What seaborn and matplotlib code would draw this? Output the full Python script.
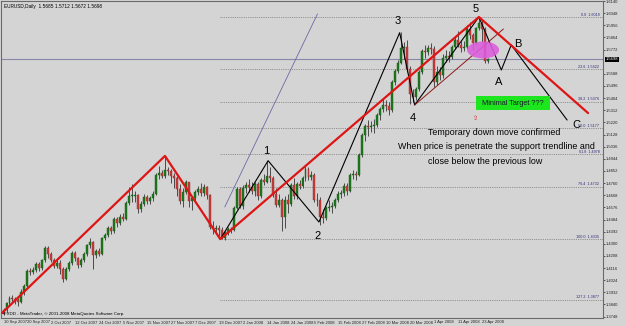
import numpy as np
import pandas as pd
import matplotlib
matplotlib.use("Agg")
import matplotlib.pyplot as plt
import matplotlib.transforms as mtransforms
from matplotlib.patches import Ellipse, Rectangle
import seaborn as sns

# ---------------- data ----------------
opens = [
    1.3765, 1.3795, 1.3850, 1.3890, 1.3880, 1.3875, 1.3860, 1.3935, 1.3980, 1.4095,
    1.4085, 1.4105, 1.4145, 1.4120, 1.4175, 1.4265, 1.4220, 1.4180, 1.4135, 1.4155,
    1.4110, 1.4035, 1.4110, 1.4155, 1.4230, 1.4190, 1.4140, 1.4180, 1.4220, 1.4290,
    1.4315, 1.4215, 1.4245, 1.4225, 1.4345, 1.4370, 1.4420, 1.4395, 1.4485, 1.4455,
    1.4505, 1.4490, 1.4610, 1.4665, 1.4665, 1.4670, 1.4565, 1.4605, 1.4655, 1.4625,
    1.4645, 1.4680, 1.4825, 1.4835, 1.4810, 1.4860, 1.4855, 1.4810, 1.4795, 1.4715,
    1.4625, 1.4690, 1.4765, 1.4625, 1.4645, 1.4690, 1.4715, 1.4685, 1.4730, 1.4670,
    1.4430, 1.4415, 1.4420, 1.4405, 1.4345, 1.4390, 1.4415, 1.4405, 1.4575, 1.4715,
    1.4590, 1.4720, 1.4745, 1.4730, 1.4700, 1.4750, 1.4665, 1.4785, 1.4770, 1.4815,
    1.4795, 1.4680, 1.4595, 1.4630, 1.4505, 1.4630, 1.4605, 1.4745, 1.4660, 1.4750,
    1.4740, 1.4795, 1.4865, 1.4805, 1.4825, 1.4630, 1.4630, 1.4505, 1.4495, 1.4570,
    1.4580, 1.4585, 1.4630, 1.4680, 1.4685, 1.4740, 1.4700, 1.4820, 1.4830, 1.4825,
    1.4975, 1.5125, 1.5190, 1.5185, 1.5195, 1.5200, 1.5275, 1.5320, 1.5350, 1.5345,
    1.5315, 1.5525, 1.5610, 1.5670, 1.5785, 1.5795, 1.5625, 1.5435, 1.5410, 1.5475,
    1.5605, 1.5765, 1.5755, 1.5785, 1.5780, 1.5530, 1.5605, 1.5580, 1.5705, 1.5725,
    1.5715, 1.5790, 1.5845, 1.5810, 1.5785, 1.5795, 1.5930, 1.5880, 1.5820, 1.5935,
    1.5970, 1.5925, 1.5685,
]
highs = [
    1.3810, 1.3860, 1.3905, 1.3915, 1.3900, 1.3890, 1.3955, 1.3995, 1.4110, 1.4120,
    1.4125, 1.4160, 1.4160, 1.4185, 1.4280, 1.4285, 1.4235, 1.4195, 1.4190, 1.4180,
    1.4125, 1.4125, 1.4170, 1.4245, 1.4245, 1.4200, 1.4195, 1.4235, 1.4300, 1.4345,
    1.4320, 1.4260, 1.4270, 1.4355, 1.4385, 1.4435, 1.4435, 1.4500, 1.4500, 1.4525,
    1.4530, 1.4625, 1.4730, 1.4750, 1.4700, 1.4680, 1.4625, 1.4675, 1.4670, 1.4665,
    1.4700, 1.4840, 1.4890, 1.4860, 1.4965, 1.4880, 1.4870, 1.4840, 1.4815, 1.4755,
    1.4720, 1.4785, 1.4770, 1.4665, 1.4705, 1.4735, 1.4760, 1.4750, 1.4740, 1.4675,
    1.4470, 1.4445, 1.4445, 1.4425, 1.4400, 1.4425, 1.4430, 1.4590, 1.4730, 1.4730,
    1.4745, 1.4765, 1.4790, 1.4765, 1.4770, 1.4765, 1.4800, 1.4830, 1.4930, 1.4880,
    1.4810, 1.4720, 1.4675, 1.4650, 1.4665, 1.4680, 1.4760, 1.4800, 1.4765, 1.4780,
    1.4815, 1.4890, 1.4885, 1.4850, 1.4835, 1.4685, 1.4655, 1.4560, 1.4585, 1.4630,
    1.4615, 1.4645, 1.4700, 1.4710, 1.4760, 1.4760, 1.4835, 1.4860, 1.4850, 1.4990,
    1.5140, 1.5205, 1.5240, 1.5230, 1.5245, 1.5295, 1.5340, 1.5400, 1.5390, 1.5375,
    1.5545, 1.5625, 1.5690, 1.5905, 1.5830, 1.5845, 1.5650, 1.5470, 1.5490, 1.5620,
    1.5780, 1.5810, 1.5805, 1.5820, 1.5800, 1.5650, 1.5640, 1.5740, 1.5770, 1.5765,
    1.5805, 1.5870, 1.5915, 1.5835, 1.5840, 1.5960, 1.5980, 1.5900, 1.5945, 1.6019,
    1.6000, 1.5945, 1.5712,
]
lows = [
    1.3760, 1.3785, 1.3830, 1.3850, 1.3840, 1.3830, 1.3850, 1.3915, 1.3970, 1.4060,
    1.4070, 1.4085, 1.4095, 1.4105, 1.4165, 1.4195, 1.4165, 1.4115, 1.4115, 1.4070,
    1.4010, 1.4025, 1.4090, 1.4140, 1.4170, 1.4120, 1.4125, 1.4165, 1.4205, 1.4265,
    1.4110, 1.4195, 1.4205, 1.4215, 1.4325, 1.4355, 1.4375, 1.4380, 1.4425, 1.4440,
    1.4470, 1.4480, 1.4595, 1.4620, 1.4620, 1.4535, 1.4540, 1.4590, 1.4600, 1.4605,
    1.4625, 1.4670, 1.4790, 1.4795, 1.4800, 1.4820, 1.4760, 1.4725, 1.4660, 1.4600,
    1.4580, 1.4680, 1.4580, 1.4555, 1.4620, 1.4670, 1.4660, 1.4665, 1.4640, 1.4410,
    1.4375, 1.4390, 1.4360, 1.4335, 1.4330, 1.4370, 1.4385, 1.4395, 1.4560, 1.4575,
    1.4565, 1.4685, 1.4690, 1.4680, 1.4660, 1.4630, 1.4650, 1.4745, 1.4760, 1.4770,
    1.4655, 1.4580, 1.4580, 1.4400, 1.4420, 1.4530, 1.4590, 1.4640, 1.4640, 1.4715,
    1.4725, 1.4775, 1.4785, 1.4785, 1.4615, 1.4590, 1.4440, 1.4455, 1.4480, 1.4545,
    1.4535, 1.4570, 1.4615, 1.4645, 1.4665, 1.4670, 1.4690, 1.4790, 1.4780, 1.4815,
    1.4960, 1.5080, 1.5120, 1.5150, 1.5140, 1.5185, 1.5240, 1.5300, 1.5305, 1.5275,
    1.5300, 1.5500, 1.5595, 1.5660, 1.5700, 1.5600, 1.5360, 1.5375, 1.5390, 1.5460,
    1.5590, 1.5710, 1.5730, 1.5740, 1.5490, 1.5505, 1.5545, 1.5560, 1.5680, 1.5680,
    1.5700, 1.5775, 1.5795, 1.5750, 1.5760, 1.5780, 1.5855, 1.5770, 1.5810, 1.5920,
    1.5830, 1.5670, 1.5672,
]
closes = [
    1.3795, 1.3850, 1.3890, 1.3880, 1.3875, 1.3860, 1.3935, 1.3980, 1.4095, 1.4085,
    1.4105, 1.4145, 1.4120, 1.4175, 1.4265, 1.4220, 1.4180, 1.4135, 1.4155, 1.4110,
    1.4035, 1.4110, 1.4155, 1.4230, 1.4190, 1.4140, 1.4180, 1.4220, 1.4290, 1.4315,
    1.4215, 1.4245, 1.4225, 1.4345, 1.4370, 1.4420, 1.4395, 1.4485, 1.4455, 1.4505,
    1.4490, 1.4610, 1.4665, 1.4665, 1.4670, 1.4565, 1.4605, 1.4655, 1.4625, 1.4645,
    1.4680, 1.4825, 1.4835, 1.4810, 1.4860, 1.4855, 1.4810, 1.4795, 1.4715, 1.4625,
    1.4690, 1.4765, 1.4625, 1.4645, 1.4690, 1.4715, 1.4685, 1.4730, 1.4670, 1.4430,
    1.4415, 1.4420, 1.4405, 1.4345, 1.4390, 1.4415, 1.4405, 1.4575, 1.4715, 1.4590,
    1.4720, 1.4745, 1.4730, 1.4700, 1.4750, 1.4665, 1.4785, 1.4770, 1.4815, 1.4795,
    1.4680, 1.4595, 1.4630, 1.4505, 1.4630, 1.4605, 1.4745, 1.4660, 1.4750, 1.4740,
    1.4795, 1.4865, 1.4805, 1.4825, 1.4630, 1.4630, 1.4505, 1.4495, 1.4570, 1.4580,
    1.4585, 1.4630, 1.4680, 1.4685, 1.4740, 1.4700, 1.4820, 1.4830, 1.4825, 1.4975,
    1.5125, 1.5190, 1.5185, 1.5195, 1.5200, 1.5275, 1.5320, 1.5350, 1.5345, 1.5315,
    1.5525, 1.5610, 1.5670, 1.5785, 1.5795, 1.5625, 1.5435, 1.5410, 1.5475, 1.5605,
    1.5765, 1.5755, 1.5785, 1.5780, 1.5530, 1.5605, 1.5580, 1.5705, 1.5725, 1.5715,
    1.5790, 1.5845, 1.5810, 1.5785, 1.5795, 1.5930, 1.5880, 1.5820, 1.5935, 1.5970,
    1.5925, 1.5685, 1.5698,
]

date_label_bars = [0, 8, 16, 24, 32, 40, 48, 56, 64, 72, 80, 88, 96, 104, 112,
                   120, 128, 136, 144, 152, 160]
date_labels = ["10 Sep 2007", "20 Sep 2007", "2 Oct 2007", "12 Oct 2007",
               "24 Oct 2007", "5 Nov 2007", "15 Nov 2007", "27 Nov 2007",
               "7 Dec 2007", "19 Dec 2007", "2 Jan 2008", "14 Jan 2008",
               "24 Jan 2008", "5 Feb 2008", "15 Feb 2008", "27 Feb 2008",
               "10 Mar 2008", "20 Mar 2008", "1 Apr 2008", "11 Apr 2008",
               "23 Apr 2008"]
price_ticks = [1.6140, 1.6048, 1.5956, 1.5864, 1.5772, 1.5588, 1.5496,
               1.5404, 1.5312, 1.5220, 1.5128, 1.5036, 1.4944, 1.4852, 1.4760,
               1.4668, 1.4576, 1.4484, 1.4392, 1.4300, 1.4208, 1.4116, 1.4024,
               1.3932, 1.3840, 1.3748]
current_price = 1.5698

# Elliott wave pivots: Dec low, 1, 2, 3, 4, 5, A, B, C
wave_bar = [72.5, 88.5, 105.5, 132.5, 137.5, 159.0, 166.5, 169.8, 188.5]
wave_price = [1.4335, 1.4930, 1.4465, 1.5900, 1.5352, 1.6019, 1.5617, 1.5807, 1.5238]
wave_names = ["1", "2", "3", "4", "5", "A", "B", "C"]
# red trend lines
red_bar = [-0.5, 54.0, 72.5, 159.0, 195.5]
red_price = [1.3775, 1.4966, 1.4335, 1.6019, 1.5291]
# thin support trendline (from 4) and channel line
support_bar = [137.5, 167.2]
support_price = [1.5352, 1.5928]
channel_bar = [74.0, 105.0]
channel_price = [1.4579, 1.6042]
# Fibonacci retracement
fib_low, fib_high, fib_start = 1.4335, 1.6019, 72.5
fib_levels = [0.0, 23.6, 38.2, 50.0, 61.8, 76.4, 100.0, 127.2]

# ---------------- figure ----------------
sns.set_theme(style="white")
plt.rcParams["font.family"] = ["Liberation Sans", "DejaVu Sans"]
BG = "#d4d4d4"
fig = plt.figure(figsize=(6.25, 3.26), dpi=100, facecolor=BG)
ax = fig.add_axes([1 / 625, 8 / 326, 602 / 625, 317 / 326])
ax.set_facecolor(BG)

df = pd.DataFrame({"open": opens, "high": highs, "low": lows, "close": closes})
df["bar"] = np.arange(len(df))
up = df["close"] >= df["open"]

ax.vlines(df["bar"], df["low"], df["high"], color="#4a4a4a", lw=0.7, zorder=2)
body = np.maximum((df["close"] - df["open"]).abs(), 0.00025)
ax.bar(df["bar"][up], body[up], bottom=df["open"][up], width=0.66,
       color="#1c7a1c", edgecolor="#145a14", lw=0.3, zorder=3)
ax.bar(df["bar"][~up], body[~up], bottom=df["close"][~up], width=0.66,
       color="#c83c3c", edgecolor="#9a2a2a", lw=0.3, zorder=3)

xmin, xmax = -0.84, 200.5
ymin, ymax = 1.37374, 1.61403
ax.set_xlim(xmin, xmax)
ax.set_ylim(ymin, ymax)

# Fibonacci dotted levels
rng = fib_high - fib_low
for lv in fib_levels:
    p = fib_high - rng * lv / 100.0
    ax.plot([fib_start, xmax], [p, p], ls=(0, (1, 1.2)), color="#7a7a7a", lw=0.6, zorder=1)
    ax.text(199.3, p + 0.0003, f"{lv:.1f}  {p:.4f}", fontsize=2.7, color="#2a2a7a",
            ha="right", va="bottom", zorder=4)

# current price line
ax.axhline(current_price, color="#8888a8", lw=0.8, zorder=1)

# trend lines
sns.lineplot(x=channel_bar, y=channel_price, sort=False, estimator=None,
             color="#6a6aa8", lw=0.6, ax=ax, zorder=4)
sns.lineplot(x=wave_bar, y=wave_price, sort=False, estimator=None,
             color="black", lw=0.8, ax=ax, zorder=5)
sns.lineplot(x=support_bar, y=support_price, sort=False, estimator=None,
             color="#8b1a1a", lw=0.7, ax=ax, zorder=5)
sns.lineplot(x=red_bar, y=red_price, sort=False, estimator=None,
             color="#dd1515", lw=1.6, ax=ax, zorder=6)

# magenta ellipse
ax.add_patch(Ellipse((160.4, 1.5769), 10.7, 0.0129, facecolor="#dc5cdc",
                     edgecolor="none", alpha=0.88, zorder=7))

# wave labels
label_pos = [(87.8, 1.5003), (105.2, 1.4359), (131.9, 1.5989), (136.96, 1.5253),
             (158.0, 1.6080), (165.7, 1.5526), (172.1, 1.5814), (191.5, 1.5200)]
for name, (bx, py) in zip(wave_names, label_pos):
    ax.text(bx, py, name, fontsize=8, color="black", ha="center", va="center", zorder=8)

# green target box
ax.add_patch(Rectangle((158.0, 1.5314), 24.8, 0.0106, facecolor="#1ee61e",
                       edgecolor="none", zorder=7))
ax.text(170.4, 1.5367, "Minimal Target ???", fontsize=5.3, color="#1a1a2a",
        ha="center", va="center", zorder=8)
ax.text(158.0, 1.5253, "\u21e7", fontsize=4.5, color="#dd2222", ha="center",
        va="center", zorder=8, family=["DejaVu Sans"])

# explanatory text
ax.text(164.0, 1.5140, "Temporary down move confirmed", fontsize=6.4,
        ha="center", va="center", color="black", zorder=8)
ax.text(165.0, 1.5034, "When price is penetrate the support trendline and", fontsize=6.4,
        ha="center", va="center", color="black", zorder=8)
ax.text(161.0, 1.4920, "close below the previous low", fontsize=6.4,
        ha="center", va="center", color="black", zorder=8)

# header / footer
ax.text(0.005, 0.99, "EURUSD,Daily  1.5685 1.5712 1.5672 1.5698", transform=ax.transAxes,
        fontsize=3.4, ha="left", va="top", color="black")
ax.text(0.005, 0.006, "FXDD - MetaTrader, \u00a9 2001-2008 MetaQuotes Software Corp.",
        transform=ax.transAxes, fontsize=3.2, ha="left", va="bottom", color="black")

# axes styling
for s in ax.spines.values():
    s.set_color("#6a6a6a")
    s.set_linewidth(0.8)
ax.yaxis.tick_right()
ax.set_yticks(price_ticks)
ax.set_yticklabels([f"{v:.4f}" for v in price_ticks])
ax.set_xticks(date_label_bars)
ax.set_xticklabels(date_labels, ha="left")
ax.tick_params(axis="both", labelsize=3.0, length=1.5, width=0.5, pad=0.8,
               colors="#222222", direction="out")
ax.tick_params(axis="x", pad=0.3)
ax.set_xlabel("")
ax.set_ylabel("")
ax.grid(False)

trans = mtransforms.blended_transform_factory(ax.transAxes, ax.transData)
ax.text(1.004, current_price, f"{current_price:.4f}", transform=trans, fontsize=3.0,
        color="white", ha="left", va="center", zorder=10,
        bbox=dict(boxstyle="square,pad=0.2", facecolor="black", edgecolor="none"))

fig.savefig("out.png", dpi=100, facecolor=BG)
